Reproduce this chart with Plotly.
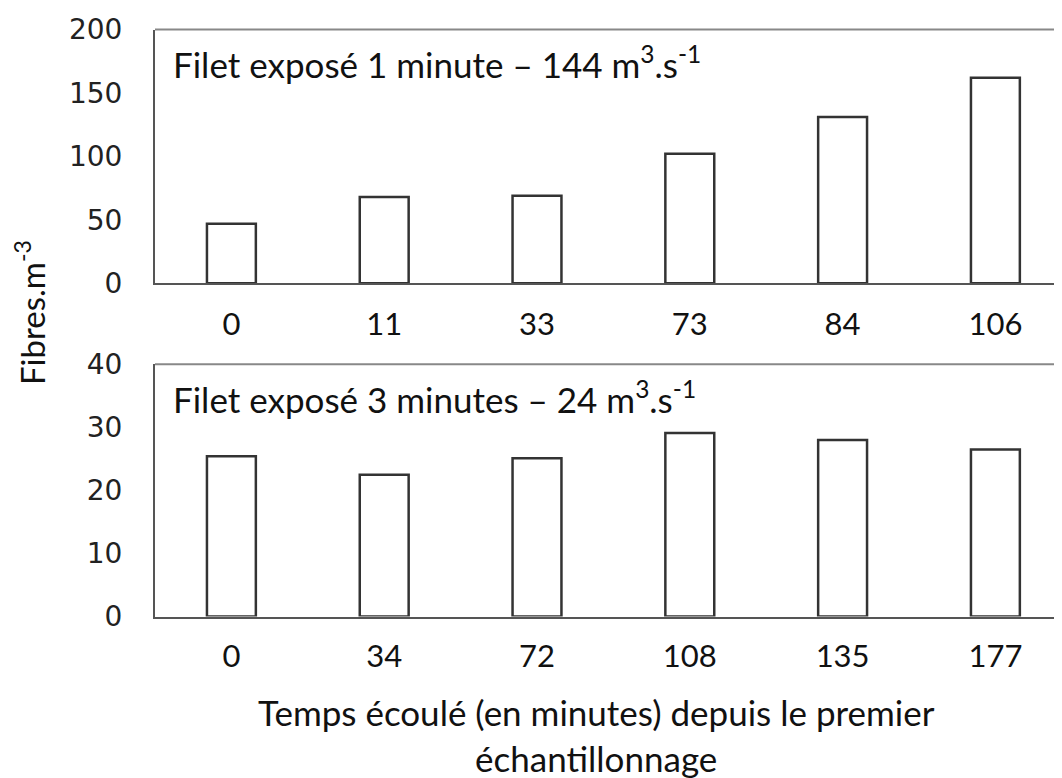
import plotly.graph_objects as go

# ---- data ----
top_times = ["0", "11", "33", "73", "84", "106"]
top_values = [47, 68, 69, 102, 131, 162]
bottom_times = ["0", "34", "72", "108", "135", "177"]
bottom_values = [25.4, 22.5, 25.1, 29.1, 28.0, 26.5]
top_label = "Filet exposé 1 minute – 144 m<sup>3</sup>.s<sup>-1</sup>"
bottom_label = "Filet exposé 3 minutes – 24 m<sup>3</sup>.s<sup>-1</sup>"
y_title = "Fibres.m<sup>-3</sup>"
x_title = "Temps écoulé (en minutes) depuis le premier<br>échantillonnage"

# page body has an 8px default margin: size the figure to fit the window
OFF = 8
W, H = 1062 - OFF, 778 - OFF
TXT = "Lato"
TICK_Y = "DejaVu Sans"

def px(x):
    return (x - OFF) / W

def py(y):
    return (H - (y - OFF)) / H

left = px(155)
x_end = -0.5 + (1062 - 155) / 152.8

bar_style = dict(marker=dict(color="white", line=dict(color="#333333", width=2.5)),
                 showlegend=False, hoverinfo="skip")

fig = go.Figure()
fig.add_trace(go.Bar(x=top_times, y=top_values, xaxis="x", yaxis="y", **bar_style))
fig.add_trace(go.Bar(x=bottom_times, y=bottom_values, xaxis="x2", yaxis="y2", **bar_style))

axis_common = dict(showgrid=False, zeroline=False, showline=True, automargin=False,
                   linecolor="#555555", linewidth=2, ticks="")
xfont = dict(family=TXT, size=31, color="#111")
yfont = dict(family=TICK_Y, size=28, color="#222")

fig.update_layout(
    width=W, height=H,
    margin=dict(l=0, r=0, t=0, b=0, autoexpand=False),
    paper_bgcolor="white", plot_bgcolor="white",
    bargap=0.68,
    xaxis=dict(domain=[left, 1], anchor="y", type="category",
               range=[-0.5, x_end], tickfont=xfont,
               ticklabelstandoff=12, **axis_common),
    yaxis=dict(domain=[py(283.3), py(29.5)], anchor="x", range=[0, 200],
               tickvals=[0, 50, 100, 150, 200], tickfont=yfont,
               ticklabelstandoff=25, **axis_common),
    xaxis2=dict(domain=[left, 1], anchor="y2", type="category",
                range=[-0.5, x_end], tickfont=xfont,
                ticklabelstandoff=11, **axis_common),
    yaxis2=dict(domain=[py(616.5), py(364.3)], anchor="x2", range=[0, 40],
                tickvals=[0, 10, 20, 30, 40], tickfont=yfont,
                ticklabelstandoff=25, **axis_common),
)

# top frame lines
for ytop in (29.5, 364.3):
    fig.add_shape(type="line", xref="paper", yref="paper",
                  x0=left, x1=1, y0=py(ytop), y1=py(ytop),
                  line=dict(color="#888888", width=2))

ann_font = dict(family=TXT, size=35, color="#111")
fig.add_annotation(text=top_label, xref="paper", yref="paper",
                   x=px(171), y=py(62), xanchor="left", yanchor="middle",
                   showarrow=False, font=ann_font)
fig.add_annotation(text=bottom_label, xref="paper", yref="paper",
                   x=px(171), y=py(397), xanchor="left", yanchor="middle",
                   showarrow=False, font=ann_font)
fig.add_annotation(text=y_title, xref="paper", yref="paper",
                   x=px(30), y=py(313), xanchor="center", yanchor="middle",
                   textangle=-90, showarrow=False,
                   font=dict(family=TXT, size=33, color="#111"))
fig.add_annotation(text=x_title, xref="paper", yref="paper",
                   x=px(596), y=py(735), xanchor="center", yanchor="middle",
                   showarrow=False, font=dict(family=TXT, size=35, color="#111"))

fig.write_html("out.html")
